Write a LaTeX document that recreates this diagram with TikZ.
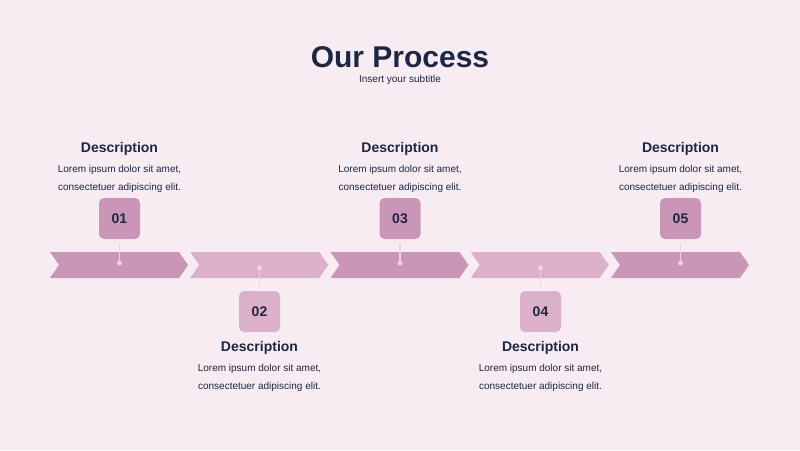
\documentclass[tikz,border=0pt]{standalone}
\usepackage{fontspec}
\setmainfont{Liberation Sans}
\definecolor{bg}{HTML}{F6ECF2}
\definecolor{dk}{HTML}{C997B5}
\definecolor{lt}{HTML}{DBB1CA}
\definecolor{navy}{HTML}{1B2744}
\definecolor{dotc}{HTML}{EBD3E1}
\begin{document}
\begin{tikzpicture}[x=1pt,y=-1pt,
 numbox/.style={minimum width=41pt,minimum height=41pt,rounded corners=5pt,inner sep=0pt,text=navy,font=\fontsize{14}{16}\selectfont\bfseries},
 ttl/.style={text=navy,font=\fontsize{14}{16}\selectfont\bfseries},
 body/.style={text=navy,align=center,font=\fontsize{10}{18}\selectfont},
 stem/.style={draw=dotc,line width=1.2pt}]
\fill[bg] (0,0) rectangle (800,450);
\useasboundingbox (0,0) rectangle (800,450);
\node[text=navy,font=\fontsize{30}{34}\selectfont\bfseries] (title) at (400,57) {Our Process};
\node[text=navy,font=\fontsize{10}{12}\selectfont] (sub) at (400,80) {Insert your subtitle};
\foreach \i/\c in {0/dk,1/lt,2/dk,3/lt,4/dk}{
 \pgfmathsetmacro\xa{50+140.25*\i}
 \fill[\c] (\xa,252) -- (\xa+129,252) -- (\xa+138,265) -- (\xa+129,278) -- (\xa,278) -- (\xa+9,265) -- cycle;
}
\foreach \n/\x/\c in {01/119.5/dk,03/400/dk,05/680.5/dk}{
 \node[numbox,fill=\c] (b\n) at (\x,218.5) {\n};
 \coordinate (d\n) at (\x,263);
 \draw[stem] ([yshift=-4pt]b\n.south) -- (d\n);
 \fill[dotc] (d\n) circle (2.5pt);
 \node[ttl] (t\n) at (\x,148.5) {Description};
 \node[body] (p\n) at (\x,178.5) {Lorem ipsum dolor sit amet,\\consectetuer adipiscing elit.};
}
\foreach \n/\x/\c in {02/259.5/lt,04/540.5/lt}{
 \node[numbox,fill=\c] (b\n) at (\x,311.5) {\n};
 \coordinate (d\n) at (\x,268);
 \draw[stem] (d\n) -- ([yshift=4pt]b\n.north);
 \fill[dotc] (d\n) circle (2.5pt);
 \node[ttl] (t\n) at (\x,347.5) {Description};
 \node[body] (p\n) at (\x,377.5) {Lorem ipsum dolor sit amet,\\consectetuer adipiscing elit.};
}
\end{tikzpicture}
\end{document}
